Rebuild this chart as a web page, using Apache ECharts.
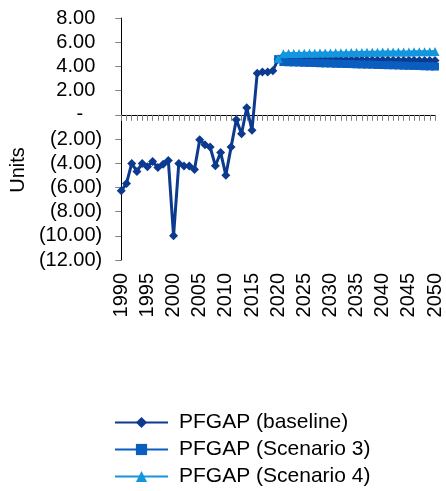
<!DOCTYPE html>
<html>
<head>
<meta charset="utf-8">
<script src="https://cdn.jsdelivr.net/npm/echarts@6/dist/echarts.min.js"></script>
<style>html,body{margin:0;padding:0;background:#fff;}#c{width:446px;height:491px;}</style>
</head>
<body>
<div id="c"></div>
<script>
var years = [];
for (var y = 1990; y <= 2050; y++) years.push(String(y));

var baselineHist = [-6.28, -5.67, -4.02, -4.68, -4.02, -4.30, -3.86, -4.35, -4.08, -3.77,
  -10.00, -4.02, -4.24, -4.24, -4.52, -2.07, -2.48, -2.67, -4.21, -3.11,
  -4.99, -2.67, -0.41, -1.57, 0.58, -1.27, 3.44, 3.53, 3.53, 3.64];
var baselineProj = [4.60, 4.62, 4.61, 4.60, 4.60, 4.59, 4.59, 4.58, 4.58, 4.57, 4.57, 4.56, 4.56, 4.55, 4.55, 4.54,
  4.54, 4.53, 4.53, 4.53, 4.52, 4.52, 4.51, 4.51, 4.51, 4.50, 4.50, 4.49, 4.49, 4.49, 4.48];
var scenario3Proj = [4.60, 4.36, 4.34, 4.33, 4.32, 4.30, 4.29, 4.28, 4.26, 4.25, 4.24, 4.22, 4.21, 4.20, 4.19, 4.17,
  4.16, 4.15, 4.14, 4.12, 4.11, 4.10, 4.09, 4.08, 4.06, 4.05, 4.04, 4.03, 4.01, 4.00, 3.99];
var scenario4Proj = [4.65, 5.05, 5.06, 5.07, 5.07, 5.08, 5.09, 5.09, 5.10, 5.11, 5.11, 5.12, 5.13, 5.13, 5.14, 5.15,
  5.15, 5.16, 5.16, 5.17, 5.18, 5.18, 5.19, 5.19, 5.20, 5.20, 5.21, 5.21, 5.22, 5.22, 5.23];
var seriesNames = ['PFGAP (baseline)', 'PFGAP (Scenario 3)', 'PFGAP (Scenario 4)'];
var yTicks = [-12, -10, -8, -6, -4, -2, 0, 2, 4, 6, 8];

var histNulls = baselineHist.map(function(){ return null; });
var baseline = baselineHist.concat(baselineProj);
var scen3 = histNulls.concat(scenario3Proj);
var scen4 = histNulls.concat(scenario4Proj);

var FONT = 'Liberation Sans, Arial, sans-serif';
var chart = echarts.init(document.getElementById('c'), null, {renderer: 'canvas'});
chart.setOption({
  animation: false,
  backgroundColor: '#ffffff',
  grid: {left: 121, right: 11, top: 18, bottom: 231, containLabel: false},
  legend: {
    orient: 'vertical', left: 114, top: 412, itemWidth: 53, itemHeight: 14, itemGap: 6,
    padding: 0,
    data: seriesNames,
    textStyle: {fontSize: 21, color: '#000', fontFamily: FONT, padding: [0, 0, 0, 6]}
  },
  xAxis: [{
    type: 'category', data: years, boundaryGap: false, position: 'bottom',
    axisLine: {onZero: true, lineStyle: {color: '#000', width: 1}},
    axisTick: {show: true, interval: 0, length: 6, lineStyle: {color: '#808080'}},
    axisLabel: {show: false},
    splitLine: {show: false}
  }, {
    type: 'category', data: years, boundaryGap: false, position: 'bottom',
    axisLine: {show: false, onZero: false},
    axisTick: {show: false},
    axisLabel: {show: true, interval: 4, rotate: 90, margin: 13, fontSize: 20, color: '#000', fontFamily: FONT},
    splitLine: {show: false}
  }],
  yAxis: {
    type: 'value', min: yTicks[0], max: yTicks[yTicks.length - 1], interval: 2,
    name: 'Units', nameLocation: 'middle', nameRotate: 90, nameGap: 86,
    nameTextStyle: {fontSize: 20, color: '#000', fontFamily: FONT, padding: [0, 62, 0, 0]},
    axisLine: {show: true, lineStyle: {color: '#000', width: 1}},
    axisTick: {show: true, length: 6, lineStyle: {color: '#808080'}},
    splitLine: {show: false},
    axisLabel: {
      margin: 19, fontSize: 20, color: '#000', fontFamily: FONT,
      formatter: function (v) {
        if (v === 0) return '{z|-}';
        if (v > 0) return '{p|' + v.toFixed(2) + '}';
        return '{n|(' + Math.abs(v).toFixed(2) + ')}';
      },
      rich: {
        z: {fontSize: 20, fontFamily: FONT, color: '#000', padding: [0, 19, 0, 0]},
        p: {fontSize: 20, fontFamily: FONT, color: '#000', padding: [0, 7, 0, 0]},
        n: {fontSize: 20, fontFamily: FONT, color: '#000'}
      }
    }
  },
  series: [{
    name: seriesNames[0], type: 'line', data: baseline, xAxisIndex: 0,
    symbol: 'diamond', symbolSize: 9, showAllSymbol: true, showSymbol: true,
    lineStyle: {color: '#0B3A8E', width: 3}, itemStyle: {color: '#0B3A8E'}
  }, {
    name: seriesNames[1], type: 'line', data: scen3, xAxisIndex: 0,
    symbol: 'rect', symbolSize: 8, showAllSymbol: true, showSymbol: true,
    lineStyle: {color: '#0A5EC0', width: 3}, itemStyle: {color: '#0A5EC0'}
  }, {
    name: seriesNames[2], type: 'line', data: scen4, xAxisIndex: 0,
    symbol: 'triangle', symbolSize: 9, showAllSymbol: true, showSymbol: true,
    lineStyle: {color: '#1496DE', width: 3}, itemStyle: {color: '#1496DE'}
  }]
});
</script>
</body>
</html>
